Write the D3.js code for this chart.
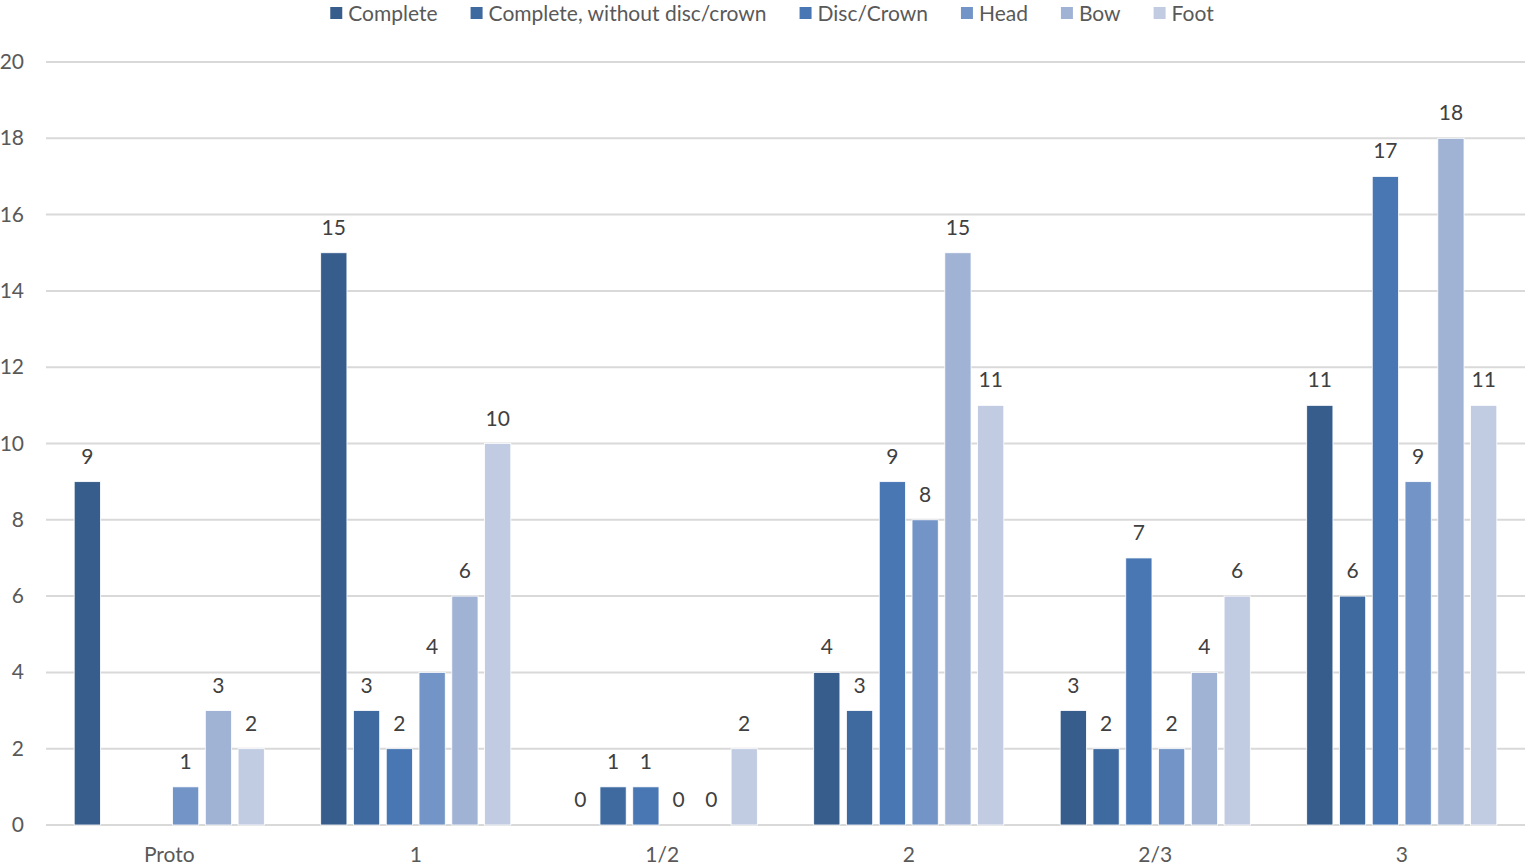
<!DOCTYPE html>
<html>
<head>
<meta charset="utf-8">
<script src="https://cdn.jsdelivr.net/npm/d3@7"></script>
<style>
  body { margin: 0; background: #fff; }
  svg { font-family: Lato, "Open Sans", sans-serif; }
</style>
</head>
<body>
<div id="chart"></div>
<script>
// --- Data ---
const categories = ["Proto", "1", "1/2", "2", "2/3", "3"];
const seriesNames = ["Complete", "Complete, without disc/crown", "Disc/Crown", "Head", "Bow", "Foot"];
const seriesColors = ["#375d8c", "#3e6aa0", "#4877b4", "#7394c7", "#a1b3d5", "#c1cce3"];
const complete      = [9, 15, 0, 4, 3, 11];
const completeNoDisc = [null, 3, 1, 3, 2, 6];
const discCrown     = [null, 2, 1, 9, 7, 17];
const head          = [1, 4, 0, 8, 2, 9];
const bow           = [3, 6, 0, 15, 4, 18];
const foot          = [2, 10, 2, 11, 6, 11];
const yTicks = [0, 2, 4, 6, 8, 10, 12, 14, 16, 18, 20];

const seriesValues = [complete, completeNoDisc, discCrown, head, bow, foot];

// --- Layout ---
const width = 1525, height = 868;
const plot = { left: 46, right: 1525, top: 62, bottom: 825 };

const svg = d3.select("#chart")
    .append("svg")
    .attr("width", width)
    .attr("height", height);

const x0 = d3.scaleBand()
    .domain(categories)
    .range([plot.left, plot.right]);

const x1 = d3.scaleBand()
    .domain(seriesNames)
    .range([0, x0.bandwidth()])
    .paddingInner(0.2)
    .paddingOuter(0.86);

const y = d3.scaleLinear()
    .domain([0, 20])
    .range([plot.bottom, plot.top]);

// gridlines
svg.append("g")
    .selectAll("line")
    .data(yTicks)
    .enter()
    .append("line")
    .attr("x1", plot.left)
    .attr("x2", plot.right)
    .attr("y1", d => y(d))
    .attr("y2", d => y(d))
    .attr("stroke", "#d9d9d9")
    .attr("stroke-width", 2);

// y tick labels
svg.append("g")
    .selectAll("text")
    .data(yTicks)
    .enter()
    .append("text")
    .attr("x", 24)
    .attr("y", d => y(d) + 7)
    .attr("text-anchor", "end")
    .attr("font-size", 21)
    .attr("fill", "#595959")
    .text(d => d);

// x labels
svg.append("g")
    .selectAll("text")
    .data(categories)
    .enter()
    .append("text")
    .attr("x", d => x0(d) + x0.bandwidth() / 2)
    .attr("y", 862)
    .attr("text-anchor", "middle")
    .attr("font-size", 21)
    .attr("fill", "#595959")
    .text(d => d);

// bars
const flat = [];
seriesNames.forEach((s, si) => {
    categories.forEach((c, ci) => {
        const v = seriesValues[si][ci];
        if (v !== null) flat.push({ series: s, cat: c, value: v, color: seriesColors[si] });
    });
});

svg.append("g")
    .selectAll("rect")
    .data(flat)
    .enter()
    .append("rect")
    .attr("x", d => x0(d.cat) + x1(d.series))
    .attr("y", d => y(d.value))
    .attr("width", x1.bandwidth())
    .attr("height", d => y(0) - y(d.value))
    .attr("fill", d => d.color)
    .attr("stroke", "#ffffff")
    .attr("stroke-width", 0.8);

// value labels
svg.append("g")
    .selectAll("text")
    .data(flat)
    .enter()
    .append("text")
    .attr("x", d => x0(d.cat) + x1(d.series) + x1.bandwidth() / 2)
    .attr("y", d => y(d.value) - 18)
    .attr("text-anchor", "middle")
    .attr("font-size", 21)
    .attr("fill", "#404040")
    .text(d => d.value);

// legend
const legend = svg.append("g");
const items = legend.selectAll("g")
    .data(seriesNames)
    .enter()
    .append("g");

items.append("rect")
    .attr("width", 12)
    .attr("height", 12)
    .attr("y", 7)
    .attr("fill", (d, i) => seriesColors[i]);

items.append("text")
    .attr("x", 18)
    .attr("y", 21)
    .attr("font-size", 21)
    .attr("fill", "#595959")
    .text(d => d);

let offset = 0;
const positions = [];
items.each(function () {
    const w = 18 + this.querySelector("text").getComputedTextLength();
    positions.push(offset);
    offset += w + 33;
});
const totalW = offset - 33;
const startX = 772 - totalW / 2;
items.attr("transform", (d, i) => `translate(${startX + positions[i]},0)`);
</script>
</body>
</html>
